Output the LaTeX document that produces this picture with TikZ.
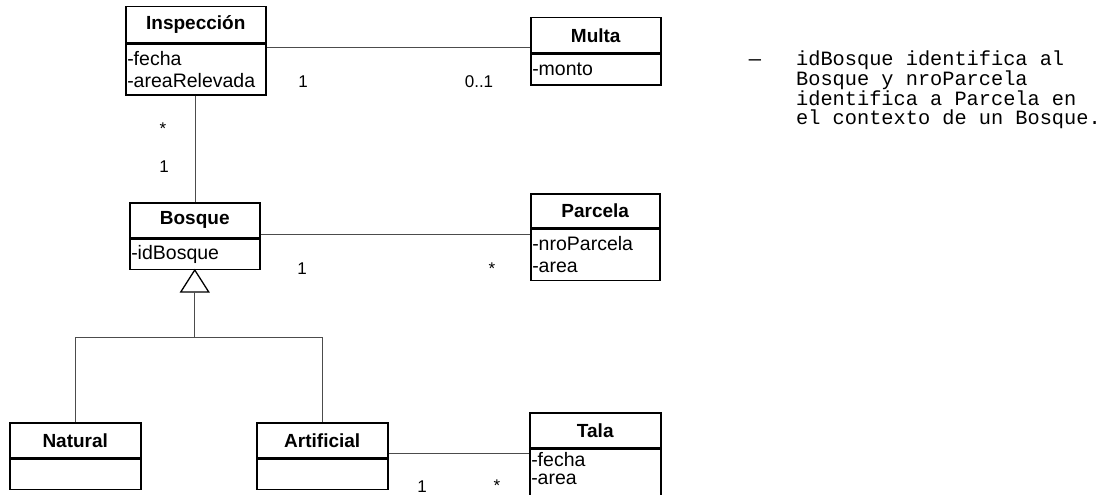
\documentclass[tikz,border=0pt]{standalone}
\usepackage{fontspec}
\setmainfont{Liberation Sans}
\newfontfamily\notefont{Liberation Mono}
\begin{document}
\begin{tikzpicture}[x=1pt,y=-1pt,
  hdr/.style={draw, line width=1.5pt, anchor=north west, inner sep=0pt,
    font=\fontsize{19}{22}\selectfont\bfseries},
  bdy/.style={draw, line width=1.5pt, anchor=north west, inner xsep=1.5pt,
    inner ysep=0pt, align=left, font=\fontsize{19.5}{22}\selectfont},
  conn/.style={line width=1pt, black!70},
  mult/.style={anchor=base, inner sep=0pt, font=\fontsize{17}{17}\selectfont},
  notestyle/.style={inner sep=0pt, font=\notefont\fontsize{20.3}{18.8}\selectfont}]
\clip (0,0) rectangle (1120,495);
\fill[white] (0,0) rectangle (1120,495);

% classes
\node[hdr, minimum width=140pt, minimum height=36pt] (inspH) at (125,6) {Inspección};
\node[bdy, text width=137pt, minimum height=51pt] (inspB) at (inspH.south west) {-fecha\\-areaRelevada};

\node[hdr, minimum width=130pt, minimum height=35pt] (multaH) at (530,17) {Multa};
\node[bdy, text width=127pt, minimum height=31pt] (multaB) at (multaH.south west) {-monto};

\node[hdr, minimum width=130pt, minimum height=35pt] (bosqH) at (129,202) {Bosque};
\node[bdy, text width=127pt, minimum height=30pt] (bosqB) at (bosqH.south west) {-idBosque};

\node[hdr, minimum width=129pt, minimum height=34pt] (parcH) at (530,193) {Parcela};
\node[bdy, text width=126pt, minimum height=51pt] (parcB) at (parcH.south west) {-nroParcela\\-area};

\node[hdr, minimum width=131pt, minimum height=35pt] (natH) at (9,422) {Natural};
\node[bdy, text width=128pt, minimum height=30pt] (natB) at (natH.south west) {};

\node[hdr, minimum width=131pt, minimum height=35pt] (artH) at (256,422) {Artificial};
\node[bdy, text width=128pt, minimum height=30pt] (artB) at (artH.south west) {};

\node[hdr, minimum width=131pt, minimum height=35pt] (talaH) at (529,412) {Tala};
\node[bdy, text width=128pt, inner ysep=3pt, text depth=60pt,
  font=\fontsize{19.5}{18}\selectfont] (talaB) at (talaH.south west) {-fecha\\-area};

% associations
\draw[conn] (inspB.east |- 0,48) -- (multaH.west |- 0,48);
\draw[conn] (inspB.south) -- (inspB.south |- bosqH.north);
\draw[conn] (bosqH.east |- 0,234) -- (parcB.west |- 0,234);
\draw[conn] (artH.east |- 0,453) -- (talaB.west |- 0,453);

% generalization
\coordinate (apex) at (bosqB.south);
\coordinate (tri) at ([yshift=-22pt]apex);
\draw[line width=1.3pt] (apex) -- ++(14,22) -- ++(-28,0) -- cycle;
\coordinate (junc) at (tri |- 0,337);
\draw[conn] (tri) -- (junc) -| (natH.north);
\draw[conn] (junc) -| (artH.north);

% multiplicities
\node[mult] (m1) at (303,88) {1};
\node[mult] (m2) at (479,88) {0..1};
\node[mult] (m3) at (163,135) {*};
\node[mult] (m4) at (164,172) {1};
\node[mult] (m5) at (302,274) {1};
\node[mult] (m6) at (492,274) {*};
\node[mult] (m7) at (422,492) {1};
\node[mult] (m8) at (497,491) {*};

% note
\node[notestyle, anchor=base] (dash) at (755,66) {—};
\node[notestyle, anchor=north west, align=left] (note) at (796,51)
  {idBosque identifica al\\Bosque y nroParcela\\identifica a Parcela en\\el contexto de un Bosque.};
\end{tikzpicture}
\end{document}
